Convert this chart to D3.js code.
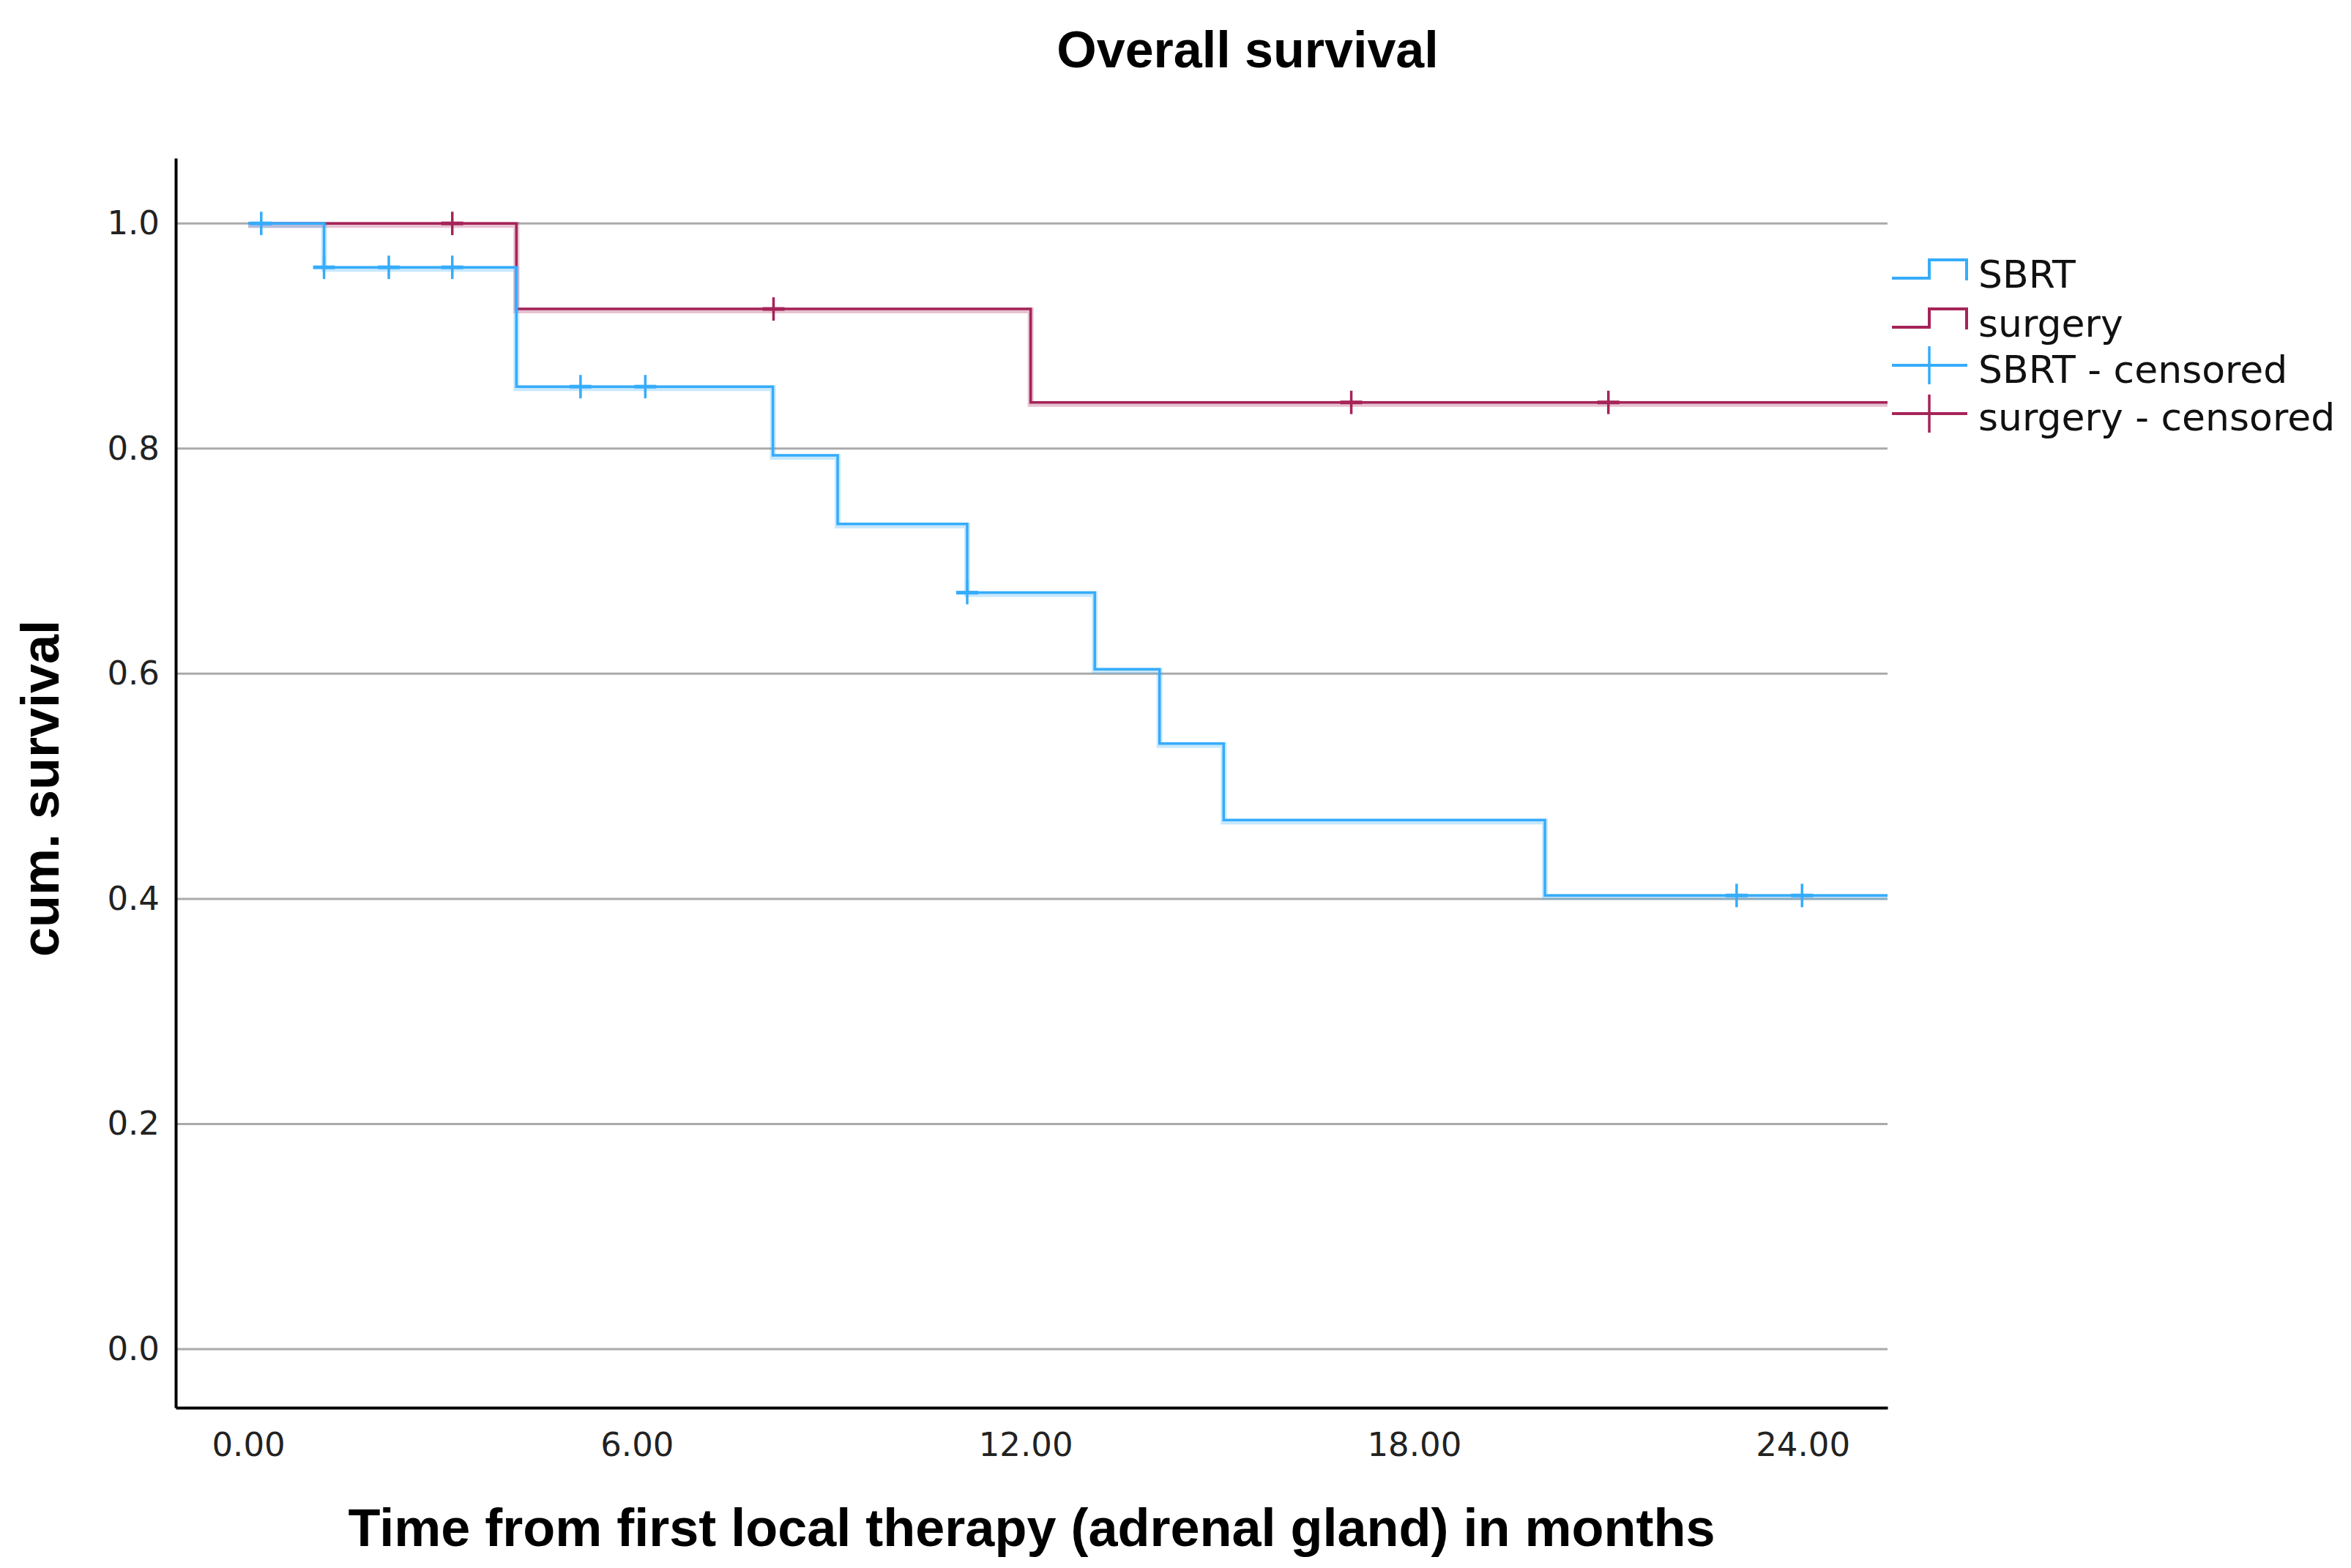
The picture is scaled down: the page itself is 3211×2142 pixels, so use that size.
<!DOCTYPE html>
<html>
<head>
<meta charset="utf-8">
<script src="https://cdn.jsdelivr.net/npm/d3@7"></script>
<style>
  body { margin: 0; background: #fff; }
  svg { display: block; }
</style>
</head>
<body>
<div id="chart"></div>
<script>
// ----------------------------
// Data (months, cum. survival)
// ----------------------------
var sbrtEventTimes = [1.17, 4.14, 8.1, 9.1, 11.1, 13.07, 14.07, 15.06, 20.02];
var sbrtSurvival   = [0.961, 0.855, 0.794, 0.733, 0.672, 0.604, 0.538, 0.470, 0.403];
var sbrtCensored   = [0.2, 1.17, 2.17, 3.15, 5.13, 6.13, 11.1, 22.98, 23.99];

var surgeryEventTimes = [4.14, 12.08];
var surgerySurvival   = [0.924, 0.841];
var surgeryCensored   = [3.15, 8.11, 17.03, 21.0];

var xTicks = [0, 6, 12, 18, 24];
var yTicks = [0, 0.2, 0.4, 0.6, 0.8, 1.0];
var legendLabels = ["SBRT", "surgery", "SBRT - censored", "surgery - censored"];

// ----------------------------
// Config
// ----------------------------
var Vis = {};
Vis.width = 3211;
Vis.height = 2142;
Vis.blue = "#36acfb";
Vis.red = "#a52459";
Vis.tickFont = "'DejaVu Sans', sans-serif";
Vis.titleFont = "'Liberation Sans', Arial, sans-serif";

Vis.x = d3.scaleLinear().domain([-1.12, 25.31]).range([240, 2578]);
Vis.y = d3.scaleLinear().domain([-0.052, 1.058]).range([1923, 216]);

Vis.svg = d3.select("#chart").append("svg")
  .attr("width", Vis.width)
  .attr("height", Vis.height);

Vis.svg.append("rect").attr("width", Vis.width).attr("height", Vis.height).attr("fill", "#fff");

Vis.svg.append("clipPath").attr("id", "plotclip")
  .append("rect")
  .attr("x", Vis.x.range()[0]).attr("y", Vis.y.range()[1])
  .attr("width", Vis.x.range()[1] - Vis.x.range()[0])
  .attr("height", Vis.y.range()[0] - Vis.y.range()[1]);

// ----------------------------
// Gridlines
// ----------------------------
Vis.svg.append("g").selectAll("line")
  .data(yTicks)
  .enter()
  .append("line")
  .attr("x1", Vis.x.range()[0])
  .attr("x2", Vis.x.range()[1])
  .attr("y1", d => Vis.y(d))
  .attr("y2", d => Vis.y(d))
  .attr("stroke", "#aaaaaa")
  .attr("stroke-width", 3);

// ----------------------------
// Survival curves
// ----------------------------
function stepPoints(times, surv) {
  var pts = [[0, 1]];
  times.forEach((t, i) => pts.push([t, surv[i]]));
  pts.push([Vis.x.domain()[1], surv[surv.length - 1]]);
  return pts;
}

function survivalAt(times, surv, t) {
  var s = 1;
  times.forEach((et, i) => { if (t >= et) s = surv[i]; });
  return s;
}

Vis.line = d3.line()
  .x(d => Vis.x(d[0]))
  .y(d => Vis.y(d[1]))
  .curve(d3.curveStepAfter);

Vis.groups = [
  { times: surgeryEventTimes, surv: surgerySurvival, cens: surgeryCensored, color: Vis.red },
  { times: sbrtEventTimes, surv: sbrtSurvival, cens: sbrtCensored, color: Vis.blue }
];

Vis.curves = Vis.svg.append("g").attr("clip-path", "url(#plotclip)");

Vis.groups.forEach(function(g) {
  var pts = stepPoints(g.times, g.surv);
  // soft halo under the line
  Vis.curves.append("path")
    .attr("d", Vis.line(pts))
    .attr("fill", "none")
    .attr("stroke", g.color)
    .attr("stroke-opacity", 0.28)
    .attr("stroke-width", 8)
    .attr("transform", "translate(0,2)");
  Vis.curves.append("path")
    .attr("d", Vis.line(pts))
    .attr("fill", "none")
    .attr("stroke", g.color)
    .attr("stroke-width", 3.5);

  var marks = Vis.curves.append("g").selectAll("g")
    .data(g.cens)
    .enter()
    .append("g")
    .attr("transform", t => `translate(${Vis.x(t)},${Vis.y(survivalAt(g.times, g.surv, t))})`);
  marks.append("line")
    .attr("x1", 0).attr("x2", 0).attr("y1", -16).attr("y2", 16)
    .attr("stroke", g.color).attr("stroke-width", 3.5);
  marks.append("line")
    .attr("x1", -15).attr("x2", 15).attr("y1", 0).attr("y2", 0)
    .attr("stroke", g.color).attr("stroke-width", 5);
});

// ----------------------------
// Axes
// ----------------------------
Vis.xAxis = Vis.svg.append("g")
  .attr("transform", `translate(0,${Vis.y.range()[0]})`)
  .call(d3.axisBottom(Vis.x).tickValues(xTicks).tickSize(0).tickPadding(34)
    .tickFormat(d3.format(".2f")));

Vis.yAxis = Vis.svg.append("g")
  .attr("transform", `translate(${Vis.x.range()[0]},0)`)
  .call(d3.axisLeft(Vis.y).tickValues(yTicks).tickSize(0).tickPadding(22)
    .tickFormat(d3.format(".1f")));

[Vis.xAxis, Vis.yAxis].forEach(function(ax) {
  ax.select(".domain").attr("stroke", "#000").attr("stroke-width", 4);
  ax.selectAll("text")
    .attr("font-family", Vis.tickFont)
    .attr("font-size", 45)
    .attr("fill", "#222");
});

// ----------------------------
// Titles
// ----------------------------
Vis.svg.append("text")
  .attr("x", 1704).attr("y", 92)
  .attr("text-anchor", "middle")
  .attr("font-family", Vis.titleFont)
  .attr("font-weight", "bold")
  .attr("font-size", 70)
  .text("Overall survival");

Vis.svg.append("text")
  .attr("x", (Vis.x.range()[0] + Vis.x.range()[1]) / 2).attr("y", 2112)
  .attr("text-anchor", "middle")
  .attr("font-family", Vis.titleFont)
  .attr("font-weight", "bold")
  .attr("font-size", 72)
  .text("Time from first local therapy (adrenal gland) in months");

Vis.svg.append("text")
  .attr("transform", "translate(80,1077) rotate(-90)")
  .attr("text-anchor", "middle")
  .attr("font-family", Vis.titleFont)
  .attr("font-weight", "bold")
  .attr("font-size", 72)
  .text("cum. survival");

// ----------------------------
// Legend
// ----------------------------
Vis.legend = Vis.svg.append("g").attr("transform", "translate(2584,0)");
var rowY = [380, 447, 499, 565];
var rowColor = [Vis.blue, Vis.red, Vis.blue, Vis.red];

Vis.legend.selectAll("g")
  .data(legendLabels)
  .enter()
  .append("g")
  .each(function(label, i) {
    var g = d3.select(this);
    var yy = rowY[i];
    if (i < 2) {
      g.append("path")
        .attr("d", d3.line()([[0, yy], [51, yy], [51, yy - 25], [102, yy - 25], [102, yy + 3]]))
        .attr("fill", "none")
        .attr("stroke", rowColor[i])
        .attr("stroke-width", 4);
    } else {
      g.append("line").attr("x1", 0).attr("x2", 103).attr("y1", yy).attr("y2", yy)
        .attr("stroke", rowColor[i]).attr("stroke-width", 4);
      g.append("line").attr("x1", 51).attr("x2", 51).attr("y1", yy - 26).attr("y2", yy + 26)
        .attr("stroke", rowColor[i]).attr("stroke-width", 3.5);
    }
    g.append("text")
      .attr("x", 118)
      .attr("y", [393, 460, 523, 588][i])
      .attr("font-family", Vis.tickFont)
      .attr("font-size", 52)
      .attr("fill", "#111")
      .text(label);
  });
</script>
</body>
</html>
